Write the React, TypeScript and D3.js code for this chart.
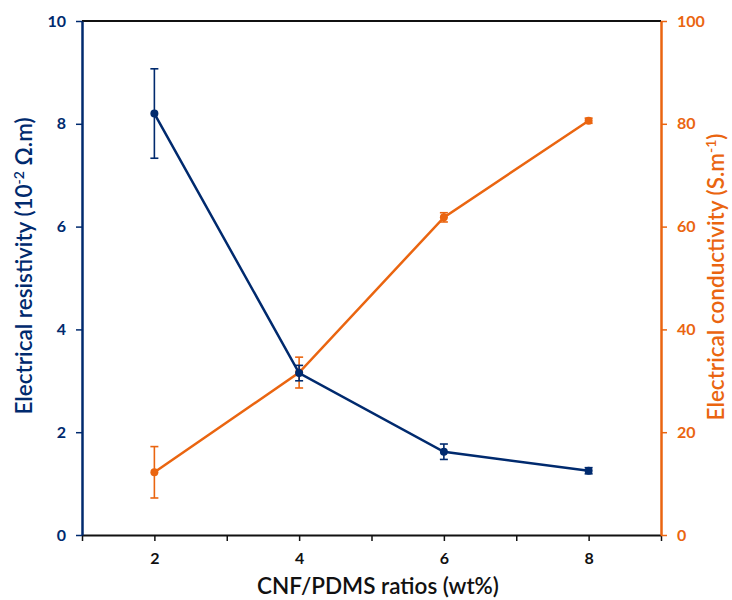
import React, { useEffect, useRef } from 'react';
import * as d3 from 'd3';

// CNF/PDMS ratios (wt%)
const ratios = [2, 4, 6, 8];
// Electrical resistivity (10^-2 ohm.m)
const resistivity = [8.2, 3.15, 1.62, 1.25];
const resistivityErr = [0.87, 0.15, 0.15, 0.06];
// Electrical conductivity (S/m)
const conductivity = [12.2, 31.6, 61.8, 80.6];
const conductivityErr = [5.0, 3.0, 0.9, 0.5];

const xTickLabels = [2, 4, 6, 8];
const leftTicks = [0, 2, 4, 6, 8, 10];
const rightTicks = [0, 20, 40, 60, 80, 100];

const NAVY = '#002a6e';
const ORANGE = '#ea6510';
const FONT = 'Lato, "Open Sans", sans-serif';

const App = () => {
  const ref = useRef<SVGSVGElement | null>(null);

  useEffect(() => {
    if (!ref.current) return;
    const svg = d3.select(ref.current);
    svg.selectAll('*').remove();

    const left = 82, right = 661, top = 21, bottom = 535;

    const x = d3.scaleLinear().domain([1, 9]).range([left, right]);
    const yL = d3.scaleLinear().domain([0, 10]).range([bottom, top]);
    const yR = d3.scaleLinear().domain([0, 100]).range([bottom, top]);

    // top border
    svg.append('line')
      .attr('x1', left).attr('x2', right).attr('y1', top).attr('y2', top)
      .attr('stroke', '#111').attr('stroke-width', 2);

    // x axis
    const gx = svg.append('g').attr('transform', `translate(0,${bottom})`)
      .call(d3.axisBottom(x).tickValues(d3.range(1, 10)).tickSize(6).tickSizeOuter(0)
        .tickFormat(d => (xTickLabels.includes(d as number) ? String(d) : '')));
    gx.select('.domain').attr('stroke', '#111').attr('stroke-width', 2);
    gx.selectAll('.tick line').attr('stroke', '#111').attr('stroke-width', 1.5);
    gx.selectAll('.tick text').attr('font-family', FONT).attr('font-weight', 'bold')
      .attr('font-size', 16).attr('fill', '#111').attr('dy', '1.25em');

    // left axis
    const gl = svg.append('g').attr('transform', `translate(${left},0)`)
      .call(d3.axisLeft(yL).tickValues(leftTicks).tickSize(6).tickSizeOuter(0).tickPadding(10));
    gl.select('.domain').attr('stroke', NAVY).attr('stroke-width', 2.5);
    gl.selectAll('.tick line').attr('stroke', NAVY).attr('stroke-width', 1.5);
    gl.selectAll('.tick text').attr('font-family', FONT).attr('font-weight', 'bold')
      .attr('font-size', 16).attr('fill', NAVY);

    // right axis
    const gr = svg.append('g').attr('transform', `translate(${right},0)`)
      .call(d3.axisRight(yR).tickValues(rightTicks).tickSize(6).tickSizeOuter(0).tickPadding(10));
    gr.select('.domain').attr('stroke', ORANGE).attr('stroke-width', 2.5);
    gr.selectAll('.tick line').attr('stroke', ORANGE).attr('stroke-width', 1.5);
    gr.selectAll('.tick text').attr('font-family', FONT).attr('font-weight', 'bold')
      .attr('font-size', 16).attr('fill', ORANGE);

    const drawSeries = (vals: number[], errs: number[], y: d3.ScaleLinear<number, number>, color: string) => {
      const g = svg.append('g');
      const pts = ratios.map((r, i) => ({ r, v: vals[i], e: errs[i] }));
      g.append('path').datum(pts)
        .attr('d', d3.line<{ r: number; v: number }>().x(d => x(d.r)).y(d => y(d.v)))
        .attr('fill', 'none').attr('stroke', color).attr('stroke-width', 2.5);
      pts.forEach(d => {
        const cx = x(d.r);
        g.append('line').attr('x1', cx).attr('x2', cx)
          .attr('y1', y(d.v + d.e)).attr('y2', y(d.v - d.e))
          .attr('stroke', color).attr('stroke-width', 1.6);
        [d.v + d.e, d.v - d.e].forEach(v => {
          g.append('line').attr('x1', cx - 4).attr('x2', cx + 4)
            .attr('y1', y(v)).attr('y2', y(v))
            .attr('stroke', color).attr('stroke-width', 1.6);
        });
        g.append('circle').attr('cx', cx).attr('cy', y(d.v)).attr('r', 4).attr('fill', color);
      });
    };

    drawSeries(conductivity, conductivityErr, yR, ORANGE);
    drawSeries(resistivity, resistivityErr, yL, NAVY);

    // axis titles
    svg.append('text')
      .attr('x', 378).attr('y', 594)
      .attr('text-anchor', 'middle').attr('font-family', FONT).attr('font-size', 22.5)
      .attr('font-weight', 600).attr('fill', '#111').text('CNF/PDMS ratios (wt%)');

    const lt = svg.append('text')
      .attr('transform', `translate(32,266) rotate(-90)`)
      .attr('text-anchor', 'middle').attr('font-family', FONT).attr('font-size', 22.5)
      .attr('font-weight', 600).attr('fill', NAVY);
    lt.append('tspan').text('Electrical resistivity (10');
    lt.append('tspan').attr('font-size', 14).attr('dy', -8).text('-2');
    lt.append('tspan').attr('dy', 8).text(' Ω.m)');

    const rt = svg.append('text')
      .attr('transform', `translate(724,277) rotate(-90)`)
      .attr('text-anchor', 'middle').attr('font-family', FONT).attr('font-size', 22.5)
      .attr('font-weight', 600).attr('fill', ORANGE);
    rt.append('tspan').text('Electrical conductivity (S.m');
    rt.append('tspan').attr('font-size', 14).attr('dy', -8).text('-1');
    rt.append('tspan').attr('dy', 8).text(')');
  }, []);

  return <svg ref={ref} width={732} height={600} style={{ display: 'block', position: 'absolute', left: 0, top: 0 }} />;
};

export default App;
